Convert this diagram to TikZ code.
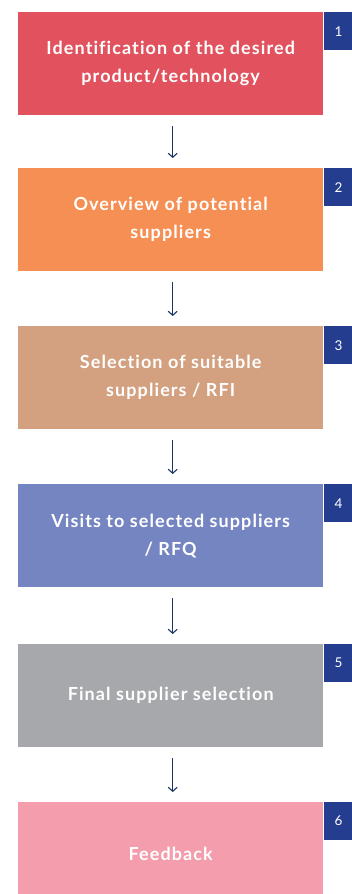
\documentclass[tikz,border=0pt]{standalone}
\usepackage{fontspec}
\setmainfont{Lato}
\newfontfamily\stepfont[LetterSpace=6, Ligatures=NoCommon]{Lato}
\usetikzlibrary{arrows.meta}
\definecolor{stepred}{HTML}{E1525E}
\definecolor{steporange}{HTML}{F58F53}
\definecolor{steptan}{HTML}{D3A180}
\definecolor{stepviolet}{HTML}{7585C2}
\definecolor{stepgrey}{HTML}{A7A8AB}
\definecolor{steppink}{HTML}{F39DAD}
\definecolor{badgeblue}{HTML}{253D8F}
\definecolor{arrowblue}{HTML}{1B3466}

\begin{document}
\begin{tikzpicture}[x=1pt, y=-1pt,
	stepbox/.style={rectangle, anchor=north west, minimum width=305pt, minimum height=103pt,
		inner sep=0pt, align=center, text=white, font=\stepfont\bfseries\fontsize{18}{28}\selectfont},
	numbox/.style={rectangle, anchor=north west, fill=badgeblue, minimum width=30pt, minimum height=38pt,
		inner sep=0pt, text=white, font=\fontsize{13.5}{15}\selectfont},
	flow/.style={draw=arrowblue, line width=1.1pt, -{Straight Barb[length=4pt,width=9pt]},
		shorten <=11pt, shorten >=10pt}]
			%%%%% START %%%%%
			
			\clip (0, 0) rectangle (352, 894);
			
			\node[stepbox, fill=stepred] (s1) at (18, 12) {Identification of the desired\\product/technology};
			\node[numbox] (n1) at (s1.north east) {1};
			
			\node[stepbox, fill=steporange] (s2) at (18, 168) {Overview of potential\\suppliers};
			\node[numbox] (n2) at (s2.north east) {2};
			
			\node[stepbox, fill=steptan] (s3) at (18, 326) {Selection of suitable\\suppliers / RFI};
			\node[numbox] (n3) at (s3.north east) {3};
			
			\node[stepbox, fill=stepviolet] (s4) at (18, 484) {Visits to selected suppliers\\/ RFQ};
			\node[numbox] (n4) at (s4.north east) {4};
			
			\node[stepbox, fill=stepgrey] (s5) at (18, 644) {Final supplier selection};
			\node[numbox] (n5) at (s5.north east) {5};
			
			\node[stepbox, fill=steppink] (s6) at (18, 802) {Feedback};
			\node[numbox] (n6) at (s6.north east) {6};
			
			\foreach \a/\b in {s1/s2, s2/s3, s3/s4, s4/s5, s5/s6}
				\draw[flow] ([xshift=2pt]\a.south) -- ([xshift=2pt]\b.north);
			
			%%%%% END %%%%%
\end{tikzpicture}
\end{document}
